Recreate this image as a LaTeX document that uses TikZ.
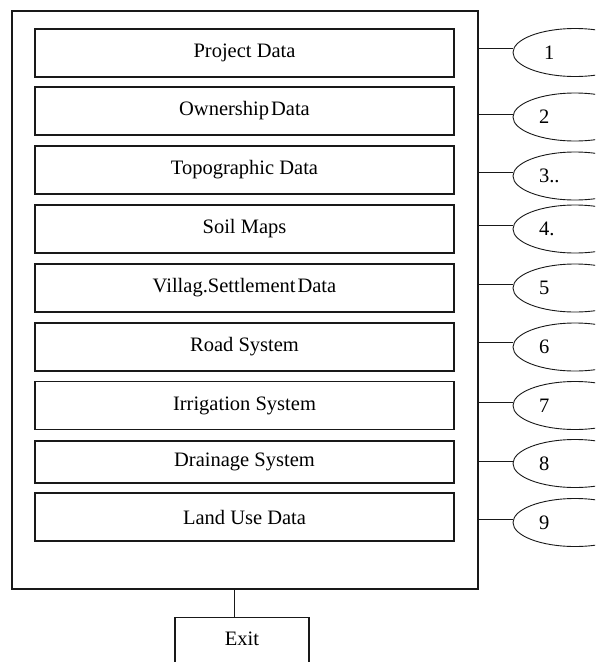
\documentclass[tikz,border=0pt]{standalone}
\usepackage{fontspec}
\setmainfont{Liberation Serif}
\usetikzlibrary{shapes.geometric}
\begin{document}
\begin{tikzpicture}[x=1pt,y=-1pt,
  every node/.style={font=\fontsize{20.5pt}{24pt}\selectfont},
  databox/.style={draw=black!90, line width=1.3pt, minimum width=419pt, minimum height=48pt, inner sep=0pt},
  numell/.style={ellipse, draw=black!90, line width=0.9pt, minimum width=124pt, minimum height=48pt, inner sep=0pt, text width=72pt, align=left},
  link/.style={draw=black!90, line width=1pt}]
\useasboundingbox (0,0) rectangle (595,662);
\clip (0,0) rectangle (595,662);
\node[draw=black!90, line width=1.3pt, minimum width=466pt, minimum height=578pt, inner sep=0pt] (outer) at (245,300) {};
\node[databox] (b1) at (244.5,53) {Project Data};
\node[databox] (b2) at (244.5,111) {Ownership\hspace{2pt}Data};
\node[databox] (b3) at (244.5,170) {Topographic Data};
\node[databox] (b4) at (244.5,229) {Soil Maps};
\node[databox] (b5) at (244.5,288) {Villag.Settlement\hspace{2pt}Data};
\node[databox] (b6) at (244.5,347) {Road System};
\node[databox] (b7) at (244.5,405.5) {Irrigation System};
\node[databox, minimum height=42pt] (b8) at (244.5,462) {Drainage System};
\node[databox] (b9) at (244.5,517) {Land Use Data};
\node[numell] (e1) at (575,52.5) {\hspace*{0.25em}1};
\node[numell] (e2) at (575,117) {2};
\node[numell] (e3) at (575,176) {3..};
\node[numell] (e4) at (575,229) {4.};
\node[numell] (e5) at (575,288) {5};
\node[numell] (e6) at (575,347) {6};
\node[numell] (e7) at (575,405.5) {7};
\node[numell] (e8) at (575,463.5) {8};
\node[numell] (e9) at (575,522.5) {9};
\draw[link] ([yshift=4.5pt]e1.west) -- ([yshift=4.5pt]e1.west -| outer.east);
\draw[link] ([yshift=3pt]e2.west) -- ([yshift=3pt]e2.west -| outer.east);
\draw[link] ([yshift=4pt]e3.west) -- ([yshift=4pt]e3.west -| outer.east);
\draw[link] ([yshift=4pt]e4.west) -- ([yshift=4pt]e4.west -| outer.east);
\draw[link] ([yshift=4pt]e5.west) -- ([yshift=4pt]e5.west -| outer.east);
\draw[link] ([yshift=5pt]e6.west) -- ([yshift=5pt]e6.west -| outer.east);
\draw[link] ([yshift=3.5pt]e7.west) -- ([yshift=3.5pt]e7.west -| outer.east);
\draw[link] ([yshift=2.5pt]e8.west) -- ([yshift=2.5pt]e8.west -| outer.east);
\draw[link] ([yshift=3.5pt]e9.west) -- ([yshift=3.5pt]e9.west -| outer.east);
\node[draw=black!90, line width=1.3pt, minimum width=134pt, anchor=north, inner xsep=0pt, inner ysep=14.5pt, text height=13.5pt, text depth=27pt] (exit) at (242,617) {Exit};
\draw[link] ([xshift=-8pt]exit.north) -- ([xshift=-8pt]exit.north |- outer.south);
\end{tikzpicture}
\end{document}
